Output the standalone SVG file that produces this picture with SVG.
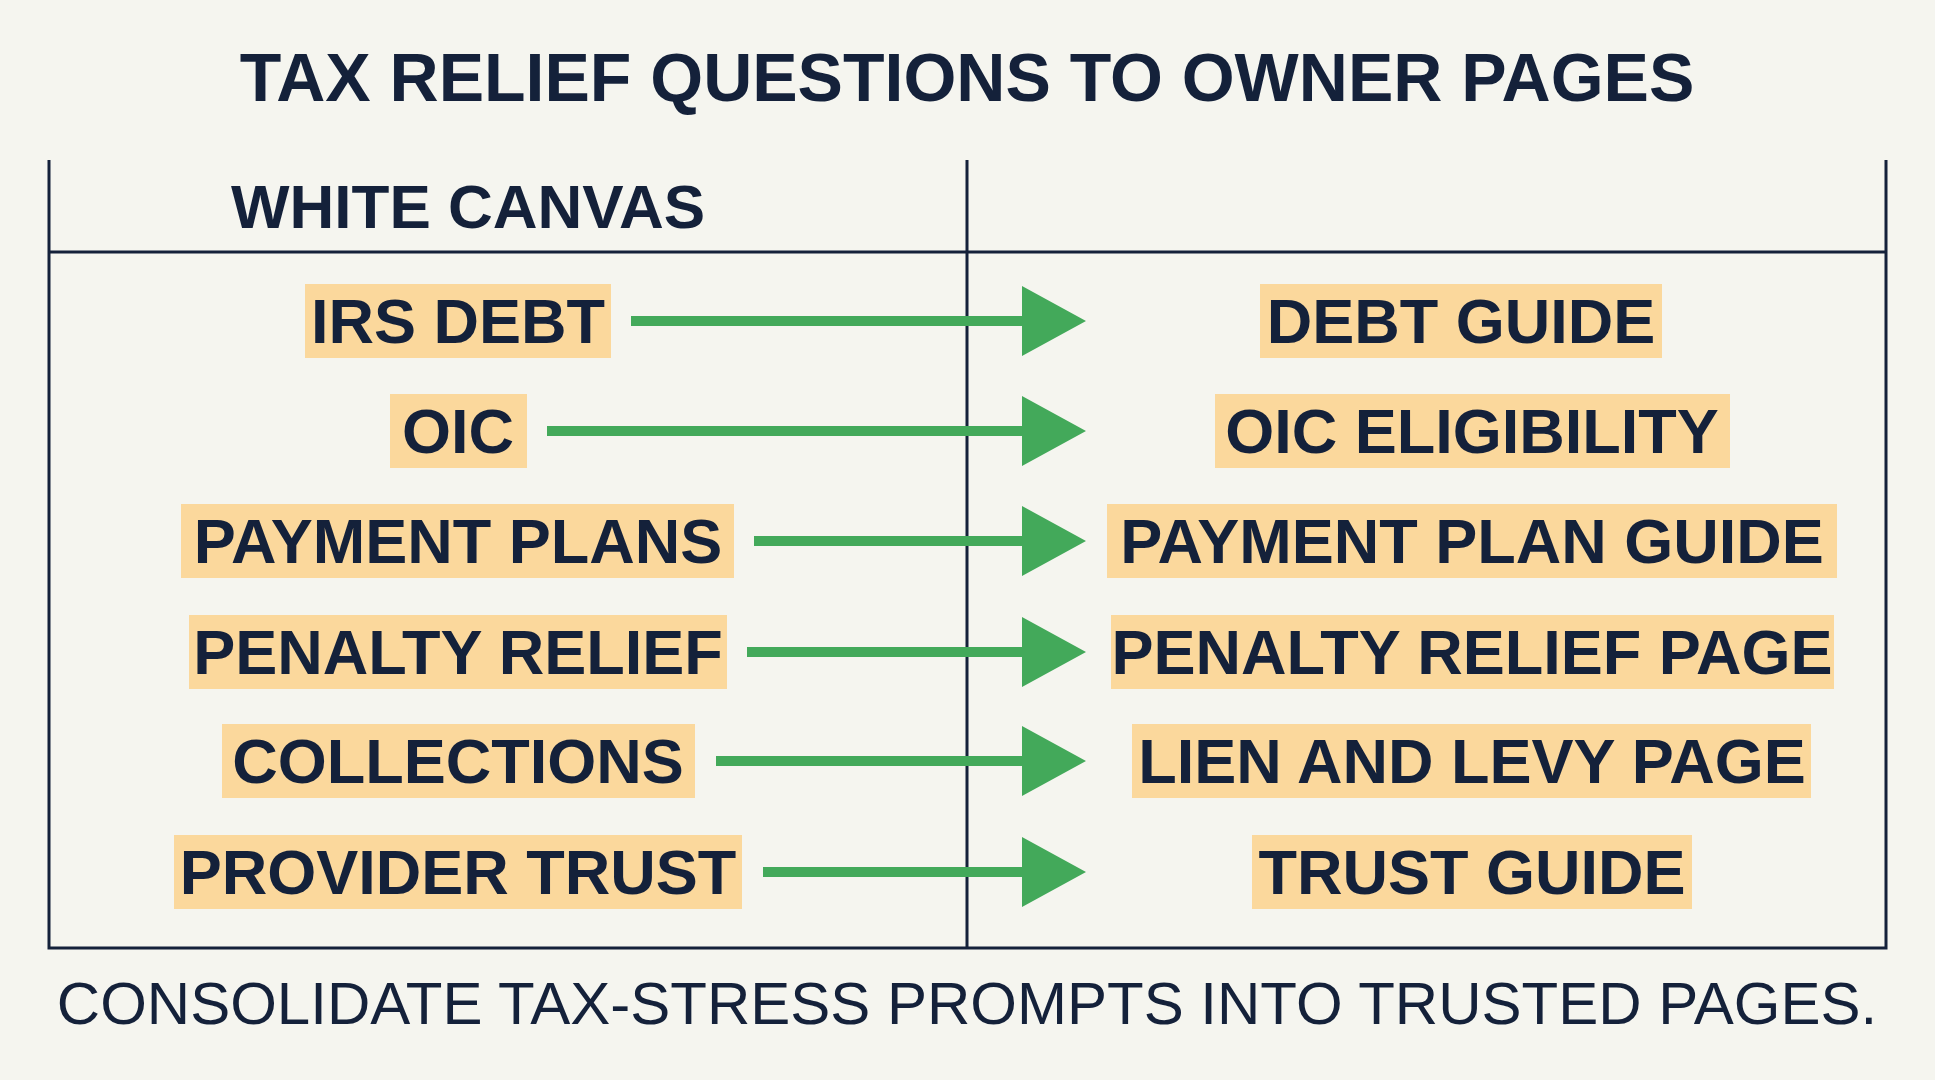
<svg xmlns="http://www.w3.org/2000/svg" width="1935" height="1080" viewBox="0 0 1935 1080">
<defs>
<style>
.t{font-family:"Liberation Sans",Arial,sans-serif;fill:#14213a}
.b{font-weight:bold}
.lbl{font-family:"Liberation Sans",Arial,sans-serif;font-weight:bold;font-size:63px;fill:#14213a;text-anchor:middle}
.hl{fill:#fbd89c}
.ln{stroke:#14213a;stroke-width:3;fill:none}
.ar{stroke:#43a95a;stroke-width:10;fill:none}
.ah{fill:#43a95a}
</style>
</defs>
<rect width="1935" height="1080" fill="#f5f5ef"/>
<text class="t b" x="967" y="101" font-size="68" text-anchor="middle">TAX RELIEF QUESTIONS TO OWNER PAGES</text>
<g id="frame">
<path class="ln" d="M49 160V948H1886V160M967 160V948M49 252H1886"/>
<text class="t b" x="231" y="228" font-size="62">WHITE CANVAS</text>
</g>
<g id="connectors">
<path class="ar" d="M631 321H1030M547 431H1030M754 541H1030M747 652H1030M716 761H1030M763 872H1030"/>
<path class="ah" d="M1022 286L1086 321L1022 356ZM1022 396L1086 431L1022 466ZM1022 506L1086 541L1022 576ZM1022 617L1086 652L1022 687ZM1022 726L1086 761L1022 796ZM1022 837L1086 872L1022 907Z"/>
</g>
<g id="n1"><rect class="hl" x="305" y="284" width="306" height="74"/><text class="lbl" x="458" y="343">IRS DEBT</text></g>
<g id="n2"><rect class="hl" x="390" y="394" width="137" height="74"/><text class="lbl" x="458" y="453">OIC</text></g>
<g id="n3"><rect class="hl" x="181" y="504" width="553" height="74"/><text class="lbl" x="458" y="563">PAYMENT PLANS</text></g>
<g id="n4"><rect class="hl" x="189" y="615" width="538" height="74"/><text class="lbl" x="458" y="674">PENALTY RELIEF</text></g>
<g id="n5"><rect class="hl" x="222" y="724" width="473" height="74"/><text class="lbl" x="458" y="783">COLLECTIONS</text></g>
<g id="n6"><rect class="hl" x="174" y="835" width="568" height="74"/><text class="lbl" x="458" y="894">PROVIDER TRUST</text></g>
<g id="m1"><rect class="hl" x="1260" y="284" width="402" height="74"/><text class="lbl" x="1461" y="343">DEBT GUIDE</text></g>
<g id="m2"><rect class="hl" x="1215" y="394" width="515" height="74"/><text class="lbl" x="1472" y="453">OIC ELIGIBILITY</text></g>
<g id="m3"><rect class="hl" x="1107" y="504" width="730" height="74"/><text class="lbl" x="1472" y="563">PAYMENT PLAN GUIDE</text></g>
<g id="m4"><rect class="hl" x="1111" y="615" width="723" height="74"/><text class="lbl" x="1472" y="674">PENALTY RELIEF PAGE</text></g>
<g id="m5"><rect class="hl" x="1132" y="724" width="679" height="74"/><text class="lbl" x="1472" y="783">LIEN AND LEVY PAGE</text></g>
<g id="m6"><rect class="hl" x="1252" y="835" width="440" height="74"/><text class="lbl" x="1472" y="894">TRUST GUIDE</text></g>
<text class="t" x="967" y="1024" font-size="60" text-anchor="middle">CONSOLIDATE TAX-STRESS PROMPTS INTO TRUSTED PAGES.</text>
</svg>
